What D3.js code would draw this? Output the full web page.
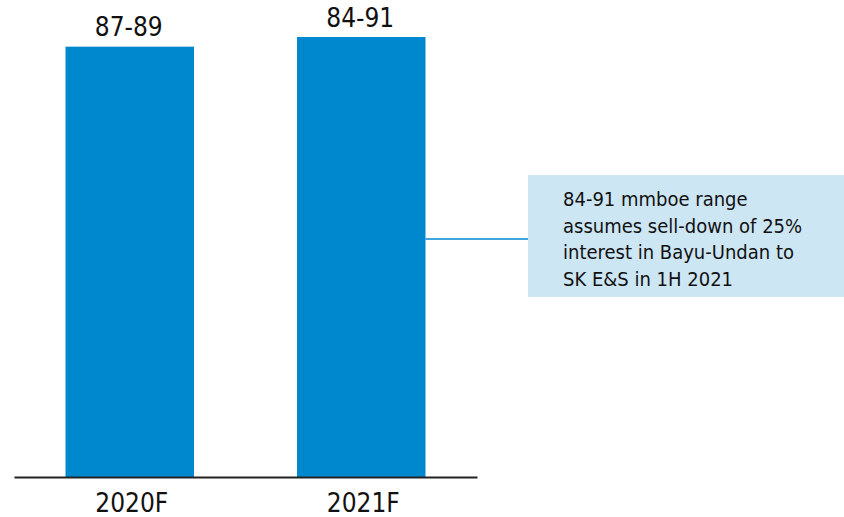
<!DOCTYPE html>
<html>
<head>
<meta charset="utf-8">
<script src="https://cdn.jsdelivr.net/npm/d3@7"></script>
<style>
  html, body { margin: 0; padding: 0; background: #ffffff; }
  svg { display: block; }
</style>
</head>
<body>
<svg id="chart" width="844" height="517"></svg>
<script>
// Production guidance (mmboe): each bar is drawn to the top of its range
const categories = ["2020F", "2021F"];
const rangeLow = [87, 84];
const rangeHigh = [89, 91];
const rangeLabels = ["87-89", "84-91"];
const noteLines = [
  "84-91 mmboe range",
  "assumes sell-down of 25%",
  "interest in Bayu-Undan to",
  "SK E&S in 1H 2021"
];

const FONT = "'DejaVu Sans Condensed', 'DejaVu Sans', sans-serif";
const BAR = "#0088cf";
const svg = d3.select("#chart");

const x = d3.scaleBand()
  .domain(categories)
  .range([14, 477])
  .paddingInner(0.445)
  .paddingOuter(0.2225);

const y = d3.scaleLinear().domain([0, 91]).range([477, 37]);

const data = categories.map((c, i) => ({ cat: c, low: rangeLow[i], high: rangeHigh[i], label: rangeLabels[i] }));

// bars
svg.append("g").selectAll("rect")
  .data(data)
  .join("rect")
  .attr("x", d => x(d.cat))
  .attr("y", d => y(d.high))
  .attr("width", x.bandwidth())
  .attr("height", d => y(0) - y(d.high))
  .attr("fill", BAR);

// range labels above bars
svg.append("g").selectAll("text")
  .data(data)
  .join("text")
  .attr("x", d => x(d.cat) + x.bandwidth() / 2 - 1)
  .attr("y", d => y(d.high) - 10.5)
  .attr("text-anchor", "middle")
  .attr("font-family", FONT)
  .attr("font-size", 26)
  .attr("fill", "#111")
  .text(d => d.label);

// category axis
const xAxis = svg.append("g")
  .attr("transform", `translate(0,${y(0)})`)
  .call(d3.axisBottom(x).tickSize(0).tickPadding(17));
xAxis.select(".domain").attr("stroke", "#222").attr("stroke-width", 2);
xAxis.selectAll("text")
  .attr("font-family", FONT)
  .attr("font-size", 26)
  .attr("fill", "#111")
  .attr("dx", 2);

// annotation box with connector to the 2021F bar
const box = { x: 528, y: 175, w: 316, h: 122 };
const last = data[1];
svg.append("line")
  .attr("x1", x(last.cat) + x.bandwidth())
  .attr("x2", box.x)
  .attr("y1", 239)
  .attr("y2", 239)
  .attr("stroke", BAR)
  .attr("stroke-width", 1.5);

svg.append("rect")
  .attr("x", box.x)
  .attr("y", box.y)
  .attr("width", box.w)
  .attr("height", box.h)
  .attr("fill", "#cde6f4");

svg.append("text")
  .attr("font-family", FONT)
  .attr("font-size", 20)
  .attr("fill", "#111")
  .selectAll("tspan")
  .data(noteLines)
  .join("tspan")
  .attr("x", 563)
  .attr("y", (d, i) => 206 + i * 26.7)
  .text(d => d);
</script>
</body>
</html>
